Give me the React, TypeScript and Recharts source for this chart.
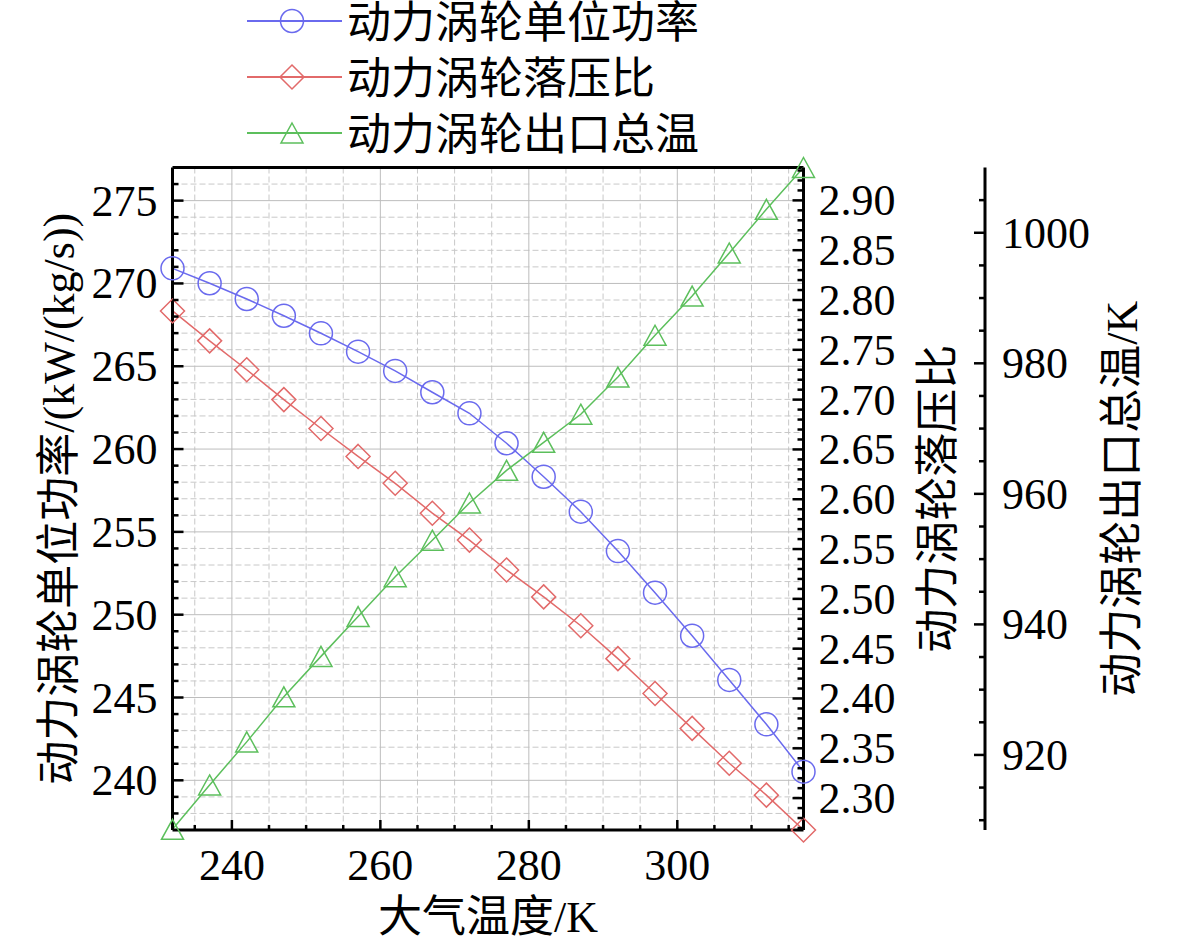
import React from "react";
import { LineChart, Line, XAxis, YAxis, CartesianGrid, Legend, ReferenceLine } from "recharts";

// 大气温度 (K)
const temps = [232, 237, 242, 247, 252, 257, 262, 267, 272, 277, 282, 287, 292, 297, 302, 307, 312, 317];
// 动力涡轮单位功率 kW/(kg/s)
const power = [270.91, 270.01, 269.06, 268.05, 266.99, 265.88, 264.72, 263.43, 262.16, 260.35, 258.33, 256.22, 253.84, 251.33, 248.73, 246.06, 243.38, 240.52];
// 动力涡轮落压比
const ratio = [2.789, 2.759, 2.73, 2.7, 2.671, 2.643, 2.616, 2.586, 2.559, 2.529, 2.502, 2.473, 2.44, 2.405, 2.37, 2.335, 2.303, 2.268];
// 动力涡轮出口总温 K
const outletTemp = [908.6, 915.4, 922.0, 928.9, 935.1, 941.2, 947.3, 952.9, 958.6, 963.6, 967.9, 972.2, 977.9, 984.3, 990.3, 996.9, 1003.6, 1010.0];

const seriesNames = ["动力涡轮单位功率", "动力涡轮落压比", "动力涡轮出口总温"];
const colors = ["#6a6aee", "#e26a6a", "#5cbf5c"];

const xMajor = [240, 260, 280, 300];
const leftMajor = [240, 245, 250, 255, 260, 265, 270, 275];
const ratioMajor = [2.3, 2.35, 2.4, 2.45, 2.5, 2.55, 2.6, 2.65, 2.7, 2.75, 2.8, 2.85, 2.9];
const tempMajor = [920, 940, 960, 980, 1000];
const leftDomain = [237, 277];

const steps = (from: number, to: number, step: number) => {
  const out: number[] = [];
  const n = Math.round((to - from) / step);
  for (let i = 0; i <= n; i++) out.push(+(from + i * step).toFixed(4));
  return out;
};

const xTicks = steps(235, 315, 5);
const leftTicks = steps(238, 276, 1);
const ratioTicks = steps(2.27, 2.93, 0.01);
const tempTicks = steps(910, 1005, 5);

const isIn = (list: number[], v: number) => list.some((m) => Math.abs(m - v) < 1e-6);
const xMinor = xTicks.filter((v) => !isIn(xMajor, v));
const leftMinor = leftTicks.filter((v) => !isIn(leftMajor, v));

const rows = temps.map((t, i) => ({
  t,
  power: power[i],
  ratio: ratio[i],
  temp: outletTemp[i],
}));

const FONT = "'Liberation Serif', 'Noto Sans CJK SC', serif";
const FS = 44;

type Side = "left" | "right" | "bottom";

function makeTick(side: Side, majors: number[], fmt: (v: number) => string, gap: number) {
  return (props: any) => {
    const { x, y, payload } = props;
    const v = payload.value;
    const major = isIn(majors, v);
    const len = major ? 11 : 6;
    if (side === "left") {
      return (
        <g>
          <line x1={x} y1={y} x2={x + len} y2={y} stroke="#000" strokeWidth={2.5} />
          {major && (
            <text x={x - gap} y={y + 15} textAnchor="end" fontFamily={FONT} fontSize={FS} fill="#000">
              {fmt(v)}
            </text>
          )}
        </g>
      );
    }
    if (side === "right") {
      return (
        <g>
          <line x1={x} y1={y} x2={x - len} y2={y} stroke="#000" strokeWidth={2.5} />
          {major && (
            <text x={x + gap} y={y + 15} textAnchor="start" fontFamily={FONT} fontSize={FS} fill="#000">
              {fmt(v)}
            </text>
          )}
        </g>
      );
    }
    return (
      <g>
        <line x1={x} y1={y} x2={x} y2={y - (major ? 10 : 5)} stroke="#000" strokeWidth={2.5} />
        {major && (
          <text x={x} y={y + gap} textAnchor="middle" fontFamily={FONT} fontSize={FS} fill="#000">
            {fmt(v)}
          </text>
        )}
      </g>
    );
  };
}

const vTitle = (text: string, dx: number) => (props: any) => {
  const vb = props.viewBox;
  const bx = vb.x + dx;
  const cy = vb.y + vb.height / 2;
  return (
    <text
      x={bx}
      y={cy}
      transform={`rotate(-90 ${bx} ${cy})`}
      textAnchor="middle"
      fontFamily={FONT}
      fontSize={FS}
      fill="#000"
    >
      {text}
    </text>
  );
};

const xTitle = (props: any) => {
  const vb = props.viewBox;
  return (
    <text x={vb.x + vb.width / 2} y={vb.y + 102} textAnchor="middle" fontFamily={FONT} fontSize={FS} fill="#000">
      大气温度/K
    </text>
  );
};

function marker(kind: number, cx: number, cy: number, color: string, key?: any) {
  if (kind === 0) {
    return <circle key={key} cx={cx} cy={cy} r={11.5} fill="none" stroke={color} strokeWidth={1.5} />;
  }
  if (kind === 1) {
    const s = 12;
    return (
      <path
        key={key}
        d={`M${cx},${cy - s}L${cx + s},${cy}L${cx},${cy + s}L${cx - s},${cy}Z`}
        fill="none"
        stroke={color}
        strokeWidth={1.5}
      />
    );
  }
  return (
    <path
      key={key}
      d={`M${cx},${cy - 10}L${cx + 11},${cy + 10}L${cx - 11},${cy + 10}Z`}
      fill="none"
      stroke={color}
      strokeWidth={1.5}
    />
  );
}

const dotFor = (kind: number) => (p: any) => marker(kind, p.cx, p.cy, colors[kind], p.index);

const renderLegend = () => (
  <svg width={470} height={165} style={{ display: "block", overflow: "visible" }}>
    {seriesNames.map((name, i) => {
      const y = 21 + i * 56;
      return (
        <g key={name}>
          <line x1={7} x2={102} y1={y} y2={y} stroke={colors[i]} strokeWidth={2} />
          {marker(i, 52, y, colors[i])}
          <text x={107} y={y + 17} fontFamily={FONT} fontSize={FS} fill="#000">
            {name}
          </text>
        </g>
      );
    })}
  </svg>
);

export default function App() {
  return (
    <div style={{ position: "absolute", left: 0, top: 0, background: "#fff" }}>
      <LineChart width={1181} height={946} data={rows} margin={{ top: 167.5, right: 6, bottom: 0, left: 0 }}>
        <CartesianGrid
          xAxisId="x"
          yAxisId="left"
          verticalValues={xMinor}
          horizontalValues={leftMinor}
          stroke="#c8c8c8"
          strokeDasharray="6 3"
          strokeWidth={1}
        />
        <CartesianGrid
          xAxisId="x"
          yAxisId="left"
          verticalValues={xMajor}
          horizontalValues={leftMajor}
          stroke="#bdbdbd"
          strokeWidth={1}
        />
        <XAxis
          xAxisId="x"
          dataKey="t"
          type="number"
          domain={[232, 317]}
          ticks={xTicks}
          interval={0}
          height={116}
          tickSize={0}
          tickMargin={0}
          tickLine={false}
          axisLine={{ stroke: "#000", strokeWidth: 3 }}
          tick={makeTick("bottom", xMajor, (v) => String(v), 50)}
          label={xTitle}
        />
        <YAxis
          yAxisId="left"
          orientation="left"
          type="number"
          domain={leftDomain}
          ticks={leftTicks}
          interval={0}
          width={172.5}
          tickSize={0}
          tickMargin={0}
          tickLine={false}
          axisLine={{ stroke: "#000", strokeWidth: 3 }}
          tick={makeTick("left", leftMajor, (v) => String(v), 15)}
          label={vTitle("动力涡轮单位功率/(kW/(kg/s))", 74)}
        />
        <YAxis
          yAxisId="pr"
          orientation="right"
          type="number"
          domain={[2.268, 2.933]}
          ticks={ratioTicks}
          interval={0}
          width={181.5}
          tickSize={0}
          tickMargin={0}
          tickLine={false}
          axisLine={{ stroke: "#000", strokeWidth: 3 }}
          tick={makeTick("right", ratioMajor, (v) => v.toFixed(2), 15)}
          label={vTitle("动力涡轮落压比", 149.5)}
        />
        <YAxis
          yAxisId="t"
          orientation="right"
          type="number"
          domain={[908.5, 1010]}
          ticks={tempTicks}
          interval={0}
          width={190}
          tickSize={0}
          tickMargin={0}
          tickLine={false}
          axisLine={{ stroke: "#000", strokeWidth: 3 }}
          tick={makeTick("right", tempMajor, (v) => String(v), 17)}
          label={vTitle("动力涡轮出口总温/K", 152)}
        />
        <ReferenceLine xAxisId="x" yAxisId="left" y={leftDomain[1]} stroke="#000" strokeWidth={3} ifOverflow="extendDomain" />
        <Line
          xAxisId="x"
          yAxisId="left"
          dataKey="power"
          name={seriesNames[0]}
          type="linear"
          stroke={colors[0]}
          strokeWidth={1.5}
          dot={dotFor(0)}
          activeDot={false}
          isAnimationActive={false}
        />
        <Line
          xAxisId="x"
          yAxisId="pr"
          dataKey="ratio"
          name={seriesNames[1]}
          type="linear"
          stroke={colors[1]}
          strokeWidth={1.5}
          dot={dotFor(1)}
          activeDot={false}
          isAnimationActive={false}
        />
        <Line
          xAxisId="x"
          yAxisId="t"
          dataKey="temp"
          name={seriesNames[2]}
          type="linear"
          stroke={colors[2]}
          strokeWidth={1.5}
          dot={dotFor(2)}
          activeDot={false}
          isAnimationActive={false}
        />
        <Legend
          layout="vertical"
          align="center"
          verticalAlign="middle"
          content={renderLegend}
          wrapperStyle={{ left: 240, top: 0, width: 470, height: 165 }}
        />
      </LineChart>
    </div>
  );
}
